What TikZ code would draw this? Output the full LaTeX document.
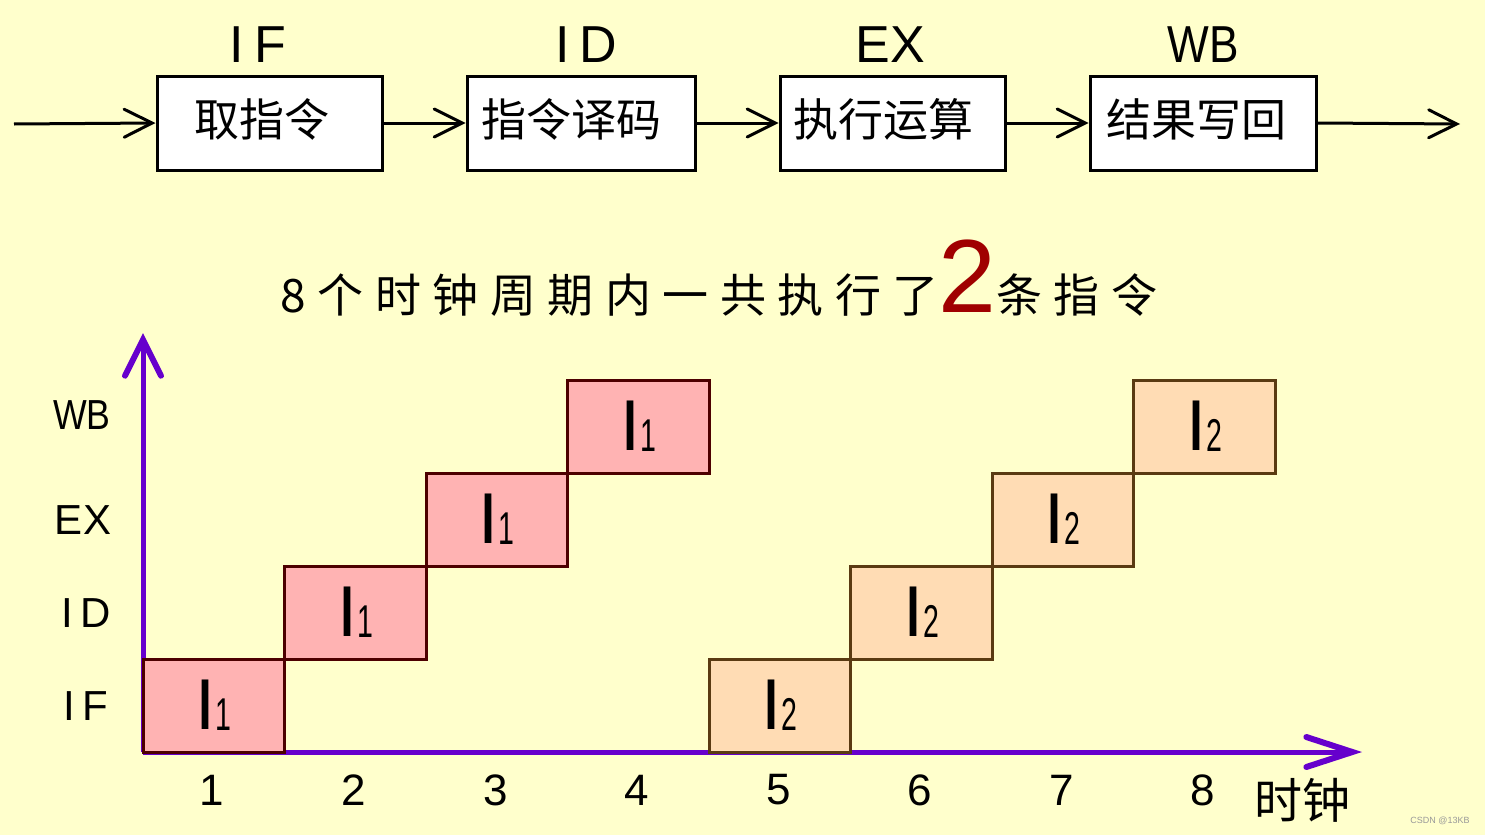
\documentclass[tikz,border=0pt]{standalone}
\usepackage{fontspec}
\setmainfont{Liberation Sans}
\newfontfamily\cjk{Noto Sans CJK SC}
\newfontfamily\cjkt[LetterSpace=25]{Noto Sans CJK SC}
\usetikzlibrary{arrows.meta}
\definecolor{bg}{HTML}{FFFFCC}
\definecolor{axis}{HTML}{6600CC}
\definecolor{pinkfill}{HTML}{FFB3B3}
\definecolor{pinkline}{HTML}{4D0000}
\definecolor{peachfill}{HTML}{FFDCB4}
\definecolor{peachline}{HTML}{5A3A12}
\definecolor{darkred}{HTML}{A00000}
\tikzset{
  stagebox/.style={draw=black, fill=white, line width=3pt, minimum height=94pt, inner sep=0pt},
  boxtext/.style={font=\cjk\fontsize{45}{45}\selectfont, inner sep=0pt},
  stagelabel/.style={font=\fontsize{52}{52}\selectfont, inner sep=0pt},
  flow/.style={line width=3pt, -{Straight Barb[length=28pt, width=28pt, line cap=round, line width=3pt]}},
  yaxis/.style={axis, line width=5pt, -{Straight Barb[length=36pt, width=36pt, line cap=round, line width=6pt]}},
  xaxis/.style={axis, line width=5pt, -{Straight Barb[length=46pt, width=30pt, line cap=round, line width=6pt]}},
  cellA/.style={draw=pinkline, fill=pinkfill, line width=3pt, minimum width=141.5pt, minimum height=93pt, inner sep=0pt, font=\fontsize{72}{72}\selectfont},
  cellB/.style={draw=peachline, fill=peachfill, line width=3pt, minimum width=141.5pt, minimum height=93pt, inner sep=0pt, font=\fontsize{72}{72}\selectfont},
  rowlabel/.style={font=\fontsize{42}{42}\selectfont, inner sep=0pt},
  collabel/.style={font=\fontsize{44}{44}\selectfont, inner sep=0pt},
}
\newcommand{\sub}[1]{\raisebox{-1pt}{\scalebox{0.62}[1]{\fontsize{46}{46}\selectfont #1}}}
\newcommand{\narrow}[1]{\scalebox{0.85}[1]{#1}}
\begin{document}
\begin{tikzpicture}[x=1pt, y=-1pt]
\fill[bg] (0,0) rectangle (1485,835);
\useasboundingbox (0,0) rectangle (1485,835);

% stage labels
\node[stagelabel] (lIF) at (258,45) {I\kern10pt F};
\node[stagelabel] (lID) at (586,45) {I\kern10pt D};
\node[stagelabel] (lEX) at (890,45) {EX};
\node[stagelabel] (lWB) at (1203,45) {\narrow{WB}};

% stage boxes
\node[stagebox, minimum width=225pt] (b1) at (269.5,123) {};
\node[stagebox, minimum width=228pt] (b2) at (581,123) {};
\node[stagebox, minimum width=225pt] (b3) at (892.5,123) {};
\node[stagebox, minimum width=226pt] (b4) at (1203,123) {};
\node[boxtext] (t1) at (262,119) {取指令};
\node[boxtext] (t2) at (571,119) {指令译码};
\node[boxtext] (t3) at (883,119) {执行运算};
\node[boxtext] (t4) at (1196,119) {结果写回};

\coordinate (in) at (14,124);
\coordinate (out) at (1460,124);
\draw[flow] (in) -- (b1.west);
\draw[flow] (b1.east) -- (b2.west);
\draw[flow] (b2.east) -- (b3.west);
\draw[flow] (b3.east) -- (b4.west);
\draw[flow] (b4.east) -- (out);

% title
\node[anchor=base, inner sep=0pt] (title) at (719,312)
  {{\cjkt\fontsize{46}{46}\selectfont 8个时钟周期内一共执行了}{\color{darkred}\fontsize{104}{104}\selectfont 2}{\cjkt\fontsize{46}{46}\selectfont 条指令}};

% axes
\coordinate (O) at (143,752);
\coordinate (ytip) at (143,333);
\coordinate (xtip) at (1362,752);
\draw[yaxis] (O) -- (ytip);
\draw[xaxis] (O) -- (xtip);

% cells instruction 1
\node[cellA] (a1) at (213.75,705.5) {I\sub{1}};
\node[cellA] (a2) at (355.25,612.5) {I\sub{1}};
\node[cellA] (a3) at (496.75,519.5) {I\sub{1}};
\node[cellA] (a4) at (638.25,426.5) {I\sub{1}};
% cells instruction 2
\node[cellB] (c5) at (779.75,705.5) {I\sub{2}};
\node[cellB] (c6) at (921.25,612.5) {I\sub{2}};
\node[cellB] (c7) at (1062.75,519.5) {I\sub{2}};
\node[cellB] (c8) at (1204.25,426.5) {I\sub{2}};

% row labels
\node[rowlabel] (rWB) at (82,415) {\narrow{WB}};
\node[rowlabel] (rEX) at (83,520) {EX};
\node[rowlabel] (rID) at (86,613) {I\kern8pt D};
\node[rowlabel] (rIF) at (86,706) {I\kern8pt F};

% column labels
\node[collabel] (n1) at (212,790) {1};
\node[collabel] (n2) at (354,790) {2};
\node[collabel] (n3) at (496,790) {3};
\node[collabel] (n4) at (637,790) {4};
\node[collabel] (n5) at (779,790) {5};
\node[collabel] (n6) at (920,790) {6};
\node[collabel] (n7) at (1062,790) {7};
\node[collabel] (n8) at (1203,790) {8};
\node[font=\cjk\fontsize{48}{48}\selectfont, inner sep=0pt] (clk) at (1302,800) {时钟};

% watermark
\node[font=\fontsize{9}{9}\selectfont, text=black!40, inner sep=0pt] (wm) at (1440,821) {CSDN @13KB};
\end{tikzpicture}
\end{document}
